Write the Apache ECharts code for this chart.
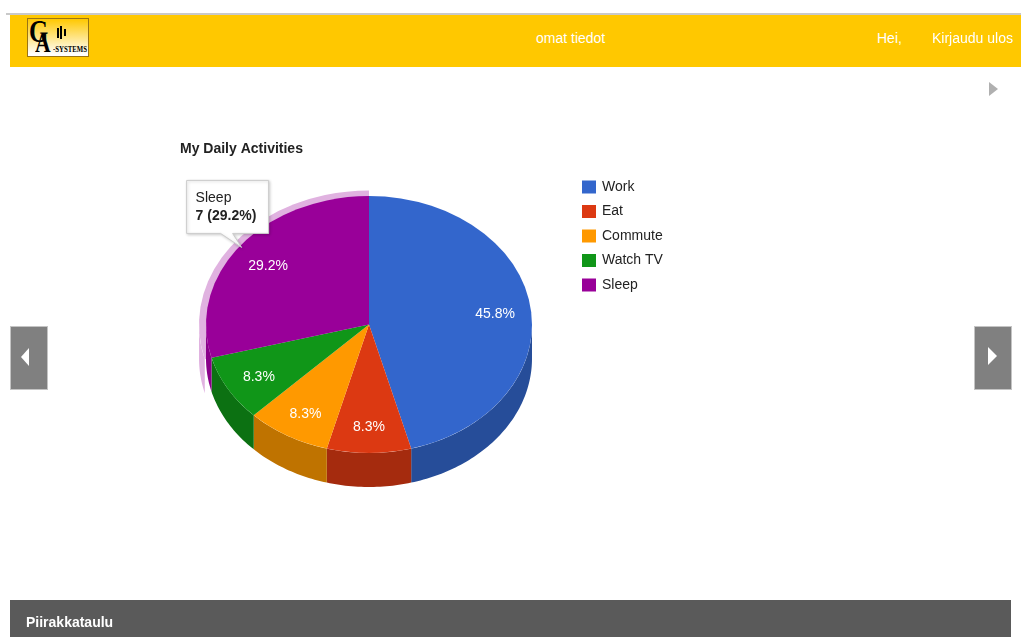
<!DOCTYPE html>
<html>
<head>
<meta charset="utf-8">
<title>Piirakkataulu</title>
<script src="https://cdn.jsdelivr.net/npm/echarts@6/dist/echarts.min.js"></script>
<style>
  html, body { margin: 0; padding: 0; background: #fff; width: 1021px; height: 637px; overflow: hidden;
    font-family: "Liberation Sans", Arial, sans-serif; }
  #chart { position: absolute; left: 0; top: 0; width: 1021px; height: 637px; }
  .topline { position: absolute; left: 6px; top: 13px; width: 1015px; height: 2px; background: #c9c9c9; }
  .header { position: absolute; left: 10px; top: 15px; width: 1011px; height: 52px; background: #ffc800; }
  .nav { position: absolute; top: 0; line-height: 46px; color: #fff; font-size: 14px; white-space: nowrap; }
  .logo { position: absolute; left: 17px; top: 3px; width: 60px; height: 37px; border: 1px solid #9a7414;
    background: linear-gradient(#ffc800 0%, #ffe27a 45%, #fff 95%); overflow: hidden; }
  .lg-g { position: absolute; left: 1px; top: 0px; font: bold 31px "Liberation Serif", serif; color: #000;
    transform: scaleX(0.8); transform-origin: left top; line-height: 26px; }
  .lg-a { position: absolute; left: 7px; top: 13px; font: bold 27px "Liberation Serif", serif; color: #000;
    transform: scaleX(0.8); transform-origin: left top; line-height: 22px; }
  .lg-sys { position: absolute; left: 25px; top: 27px; font: bold 8px "Liberation Serif", serif; color: #000;
    line-height: 8px; transform: scaleX(0.85); transform-origin: left top; white-space: nowrap; }
  .bar { position: absolute; background: #000; width: 2px; }
  .footer { position: absolute; left: 10px; top: 600px; width: 1001px; height: 37px; background: #5a5a5a; }
  .footer span { position: absolute; left: 16px; top: 0; line-height: 44px; color: #fff; font-size: 14px; font-weight: bold; }
  .navbtn { position: absolute; box-sizing: border-box; width: 38px; height: 64px; background: #808080; border: 1px solid #c4c4c4; }
  .tri-l { position: absolute; left: 10px; top: 21px; width: 0; height: 0;
    border-top: 9px solid transparent; border-bottom: 9px solid transparent; border-right: 8px solid #fff; }
  .tri-r { position: absolute; left: 13px; top: 20px; width: 0; height: 0;
    border-top: 9px solid transparent; border-bottom: 9px solid transparent; border-left: 9px solid #fff; }
  .mini { position: absolute; left: 989px; top: 82px; width: 0; height: 0;
    border-top: 7.5px solid transparent; border-bottom: 7.5px solid transparent; border-left: 9px solid #b0b0b0; }
</style>
</head>
<body>
<div id="chart"></div>

<div class="topline"></div>
<div class="header">
  <div class="logo">
    <span class="lg-g">G</span><span class="lg-a">A</span>
    <div class="bar" style="left:29px;top:9px;height:10px;"></div>
    <div class="bar" style="left:32px;top:7px;height:13px;"></div>
    <div class="bar" style="left:36px;top:10px;height:7px;"></div>
    <span class="lg-sys">-SYSTEMS</span>
  </div>
  <span class="nav" style="left:526px;">omat tiedot</span>
  <span class="nav" style="left:867px;">Hei,</span>
  <span class="nav" style="left:922px;">Kirjaudu ulos</span>
</div>

<div class="mini"></div>
<div class="navbtn" style="left:10px;top:326px;"><div class="tri-l"></div></div>
<div class="navbtn" style="left:974px;top:326px;"><div class="tri-r"></div></div>

<div class="footer"><span>Piirakkataulu</span></div>

<script>
// Hours spent per activity in a day
const categories = ['Work', 'Eat', 'Commute', 'Watch TV', 'Sleep'];
const hours = [11, 2, 2, 2, 7];
const chartTitle = 'My Daily Activities';
const activeSlice = 'Sleep';

// Top-face and side-wall colours for each slice
const palette = ['#3366cc', '#dc3912', '#ff9900', '#109618', '#990099'];
const sidePalette = ['#264d99', '#a52b0e', '#bf7300', '#0c7112', '#8a008a'];
const haloColor = '#e0b2e0';

const FONT = '"Liberation Sans", Arial, sans-serif';
const PIE = { cx: 369, cy: 324.5, rx: 163, ry: 128.5, depth: 34, halo: 7, labelAt: 0.78 };
const LEGEND = { x: 582, y: 187, step: 24.5, box: 14 };

const total = hours.reduce((a, b) => a + b, 0);
const startFrac = hours.map((v, i) => hours.slice(0, i).reduce((a, b) => a + b, 0) / total);

// slices start at 12 o'clock and run clockwise
function phiAt(frac) { return -Math.PI / 2 + frac * Math.PI * 2; }

function ellPt(rx, ry, phi) {
  return [PIE.cx + rx * Math.cos(phi), PIE.cy + ry * Math.sin(phi)];
}

// outer wall of a slice, only for the front half of the rim
function wallPoints(rx, ry, p0, p1) {
  const lo = Math.max(p0, 0), hi = Math.min(p1, Math.PI);
  if (hi <= lo) return null;
  const n = Math.max(2, Math.ceil((hi - lo) / 0.02));
  const top = [], bottom = [];
  for (let k = 0; k <= n; k++) {
    const pt = ellPt(rx, ry, lo + (hi - lo) * k / n);
    top.push(pt);
    bottom.push([pt[0], pt[1] + PIE.depth]);
  }
  return top.concat(bottom.reverse());
}

function pct(v) { return (v / total * 100).toFixed(1) + '%'; }

function renderItem(params, api) {
  const i = params.dataIndex;
  const v = api.value(0);
  const p0 = phiAt(startFrac[i]);
  const p1 = phiAt(startFrac[i] + v / total);
  const pm = (p0 + p1) / 2;
  const squash = PIE.ry / PIE.rx;
  const children = [];

  if (categories[i] === activeSlice) {
    const hr = PIE.rx + PIE.halo;
    children.push({
      type: 'sector', x: PIE.cx, y: PIE.cy, scaleY: squash, z2: 0,
      shape: { cx: 0, cy: 0, r0: 0, r: hr, startAngle: p0, endAngle: p1, clockwise: true },
      style: { fill: haloColor }
    });
    const hw = wallPoints(hr, hr * squash, p0, p1);
    if (hw) children.push({ type: 'polygon', z2: 0, shape: { points: hw }, style: { fill: haloColor } });
  }

  const wall = wallPoints(PIE.rx, PIE.ry, p0, p1);
  if (wall) {
    children.push({ type: 'polygon', z2: 1, shape: { points: wall }, style: { fill: sidePalette[i] } });
  }

  children.push({
    type: 'sector', x: PIE.cx, y: PIE.cy, scaleY: squash, z2: 2,
    shape: { cx: 0, cy: 0, r0: 0, r: PIE.rx, startAngle: p0, endAngle: p1, clockwise: true },
    style: { fill: palette[i] }
  });

  const lp = ellPt(PIE.rx * PIE.labelAt, PIE.ry * PIE.labelAt, pm);
  children.push({
    type: 'text', z2: 3,
    style: { text: pct(v), x: lp[0], y: lp[1] + 2.5, fill: '#fff', font: '14px ' + FONT,
      align: 'center', verticalAlign: 'middle' }
  });

  // legend entry
  const ly = LEGEND.y + i * LEGEND.step;
  children.push({
    type: 'rect', z2: 3,
    shape: { x: LEGEND.x, y: ly - 6.5, width: LEGEND.box, height: 13 },
    style: { fill: palette[i] }
  });
  children.push({
    type: 'text', z2: 3,
    style: { text: categories[i], x: LEGEND.x + 20, y: ly, fill: '#222', font: '14px ' + FONT,
      align: 'left', verticalAlign: 'middle' }
  });

  // hover callout for the active slice
  if (categories[i] === activeSlice) {
    const tip = ellPt(PIE.rx * 0.985, PIE.ry * 0.985, pm);
    const left = tip[0] - 55, right = left + 82, bottom = tip[1] - 14, top = bottom - 53;
    children.push({
      type: 'polygon', z2: 10,
      shape: { points: [[left, top], [right, top], [right, bottom], [tip[0] - 9, bottom], tip,
        [tip[0] - 21, bottom], [left, bottom]] },
      style: { fill: '#fff', stroke: '#cccccc', lineWidth: 1,
        shadowBlur: 3, shadowColor: 'rgba(0,0,0,0.18)', shadowOffsetX: 1, shadowOffsetY: 1 }
    });
    children.push({
      type: 'text', z2: 11,
      style: { text: categories[i], x: left + 9, y: top + 17.5, fill: '#222', font: '14px ' + FONT,
        align: 'left', verticalAlign: 'middle' }
    });
    children.push({
      type: 'text', z2: 11,
      style: { text: v + ' (' + pct(v) + ')', x: left + 9, y: top + 36, fill: '#222', font: 'bold 14px ' + FONT,
        align: 'left', verticalAlign: 'middle' }
    });
  }

  return { type: 'group', children: children };
}

const chart = echarts.init(document.getElementById('chart'), null, { renderer: 'canvas' });
chart.setOption({
  animation: false,
  backgroundColor: '#fff',
  title: {
    text: chartTitle, left: 180, top: 142, padding: 0,
    textStyle: { fontSize: 14, fontWeight: 'bold', color: '#222', fontFamily: FONT }
  },
  series: [{
    type: 'custom',
    coordinateSystem: 'none',
    silent: true,
    data: hours.map((v, i) => ({ name: categories[i], value: [v] })),
    renderItem: renderItem
  }]
});
</script>
</body>
</html>
